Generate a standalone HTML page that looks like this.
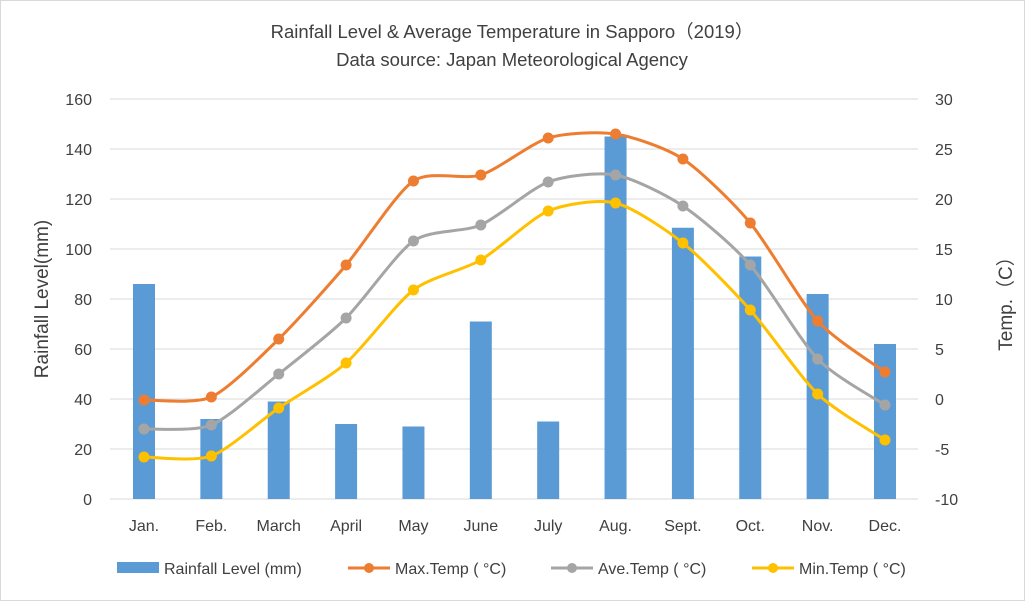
<!DOCTYPE html>
<html><head><meta charset="utf-8"><style>
body{margin:0;background:#fff;}
svg text{font-family:"Liberation Sans","Noto Sans CJK JP",sans-serif;fill:#404040;}
</style></head><body>
<svg id="c" width="1025" height="601">
<rect x="0.5" y="0.5" width="1024" height="600" fill="#fff" stroke="#d9d9d9"/>
<text x="512" y="38" text-anchor="middle" font-size="18.5">Rainfall Level &amp; Average Temperature in Sapporo（2019）</text>
<text x="512" y="66" text-anchor="middle" font-size="18.5">Data source:  Japan Meteorological Agency</text>
<text transform="translate(48,299) rotate(-90)" text-anchor="middle" font-size="19">Rainfall  Level(mm)</text>
<text transform="translate(1012,299) rotate(-90)" text-anchor="middle" font-size="19">Temp.（C）</text>
<g id="grid"></g><g id="bars"></g><g id="lines"></g><g id="labels"></g><g id="legend"></g>
</svg>
<script>
const categories=["Jan.","Feb.","March","April","May","June","July","Aug.","Sept.","Oct.","Nov.","Dec."];
const rainfall=[86,32,39,30,29,71,31,145,108.5,97,82,62];
const maxTemp=[-0.1,0.2,6.0,13.4,21.8,22.4,26.1,26.5,24.0,17.6,7.8,2.7];
const aveTemp=[-3.0,-2.6,2.5,8.1,15.8,17.4,21.7,22.4,19.3,13.4,4.0,-0.6];
const minTemp=[-5.8,-5.7,-0.9,3.6,10.9,13.9,18.8,19.6,15.6,8.9,0.5,-4.1];
const leftTicks=[0,20,40,60,80,100,120,140,160];
const rightTicks=[-10,-5,0,5,10,15,20,25,30];
const NS="http://www.w3.org/2000/svg";
const top0=99,bot=499,left=110,right=918;
const xs=i=>144+i*(885-144)/11;
const yL=v=>bot-(v/160)*(bot-top0);
const yR=v=>bot-((v+10)/40)*(bot-top0);
function mk(t,a,p){const e=document.createElementNS(NS,t);for(const k in a)e.setAttribute(k,a[k]);document.getElementById(p).appendChild(e);return e;}
leftTicks.forEach((v,i)=>{
 const l=mk('line',{x1:left,x2:right,y1:yL(v),y2:yL(v),stroke:'#d9d9d9'},'grid');
 
 
 const t=mk('text',{x:92,y:yL(v)+6,'text-anchor':'end','font-size':16},'labels');t.textContent=v;
 
 
});
rightTicks.forEach(v=>{
 const t=mk('text',{x:935,y:yR(v)+6,'font-size':16},'labels');t.textContent=v;
 
 
});
categories.forEach((c,i)=>{
 const t=mk('text',{x:xs(i),y:531,'text-anchor':'middle','font-size':16},'labels');t.textContent=c;
 
 
 const b=mk('rect',{x:xs(i)-11,y:yL(rainfall[i]),width:22,height:bot-yL(rainfall[i]),fill:'#5b9bd5'},'bars');
 
 
});
function smooth(pts){let d=`M${pts[0][0]},${pts[0][1]}`;for(let i=0;i<pts.length-1;i++){const p0=pts[i-1]||pts[i],p1=pts[i],p2=pts[i+1],p3=pts[i+2]||p2;const t=8;d+=` C${p1[0]+(p2[0]-p0[0])/t},${p1[1]+(p2[1]-p0[1])/t} ${p2[0]-(p3[0]-p1[0])/t},${p2[1]-(p3[1]-p1[1])/t} ${p2[0]},${p2[1]}`;}return d;}
[[maxTemp,'#ed7d31','max-temp'],[aveTemp,'#a5a5a5','ave-temp'],[minTemp,'#ffc000','min-temp']].forEach(([arr,col,nm])=>{
 const pts=arr.map((v,i)=>[xs(i),yR(v)]);
 const p=mk('path',{d:smooth(pts),fill:'none',stroke:col,'stroke-width':3},'lines');
 
 
 pts.forEach(q=>{const c=mk('circle',{cx:q[0],cy:q[1],r:5.5,fill:col},'lines');
 
 });
});
const leg=[['bar','#5b9bd5','Rainfall Level (mm)',117],['line','#ed7d31','Max.Temp ( °C)',348],['line','#a5a5a5','Ave.Temp ( °C)',551],['line','#ffc000','Min.Temp ( °C)',752]];
leg.forEach(([k,col,txt,x])=>{
 if(k==='bar'){const r=mk('rect',{x:x,y:562,width:42,height:11,fill:col},'legend');}
 else{const l=mk('line',{x1:x,x2:x+42,y1:568,y2:568,stroke:col,'stroke-width':3},'legend');
 const c=mk('circle',{cx:x+21,cy:568,r:5,fill:col},'legend');}
 const t=mk('text',{x:x+47,y:574,'font-size':16},'legend');t.textContent=txt;
 
 
});
</script>
</body></html>
